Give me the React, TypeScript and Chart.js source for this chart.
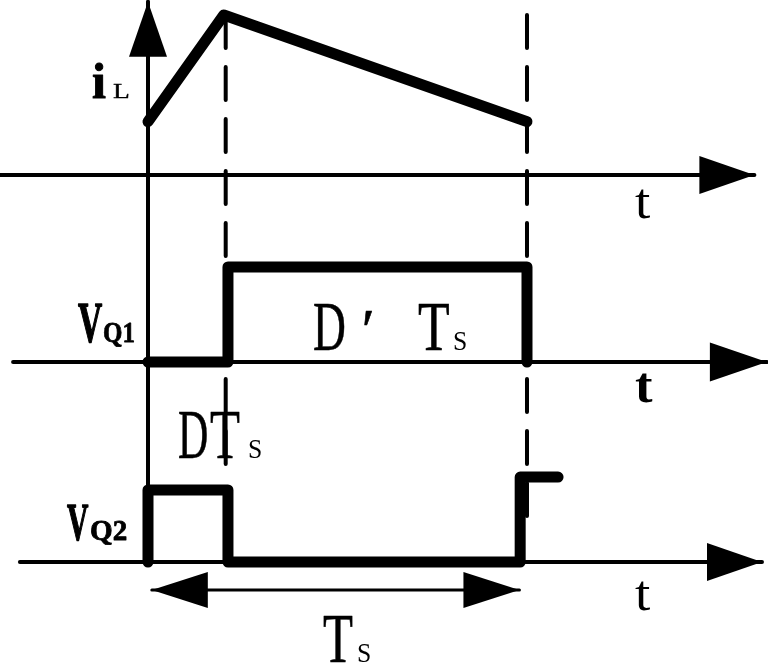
import React, { useEffect, useRef } from "react";
import { Chart, registerables } from "chart.js";

Chart.register(...registerables);

// ---- time axis in units of the switching period Ts ----
const D = 0.211; // duty ratio
const T_IL = [0, 0.2, 1.0];
const IL = [2, 6, 2];
const T_Q1 = [0, D, D, 1.0, 1.0];
const VQ1 = [0, 0, 1, 1, 0];
const T_Q2 = [0, 0, D, D, 0.982, 0.982, 1.082];
const VQ2 = [0, 1, 1, 0, 0, 1.18, 1.18];

// dashed period markers (time, top level, bottom level on iL scale)
const MARK_T = [0.205, 1.0];
const MARK_TOP = [6.0, 6.0];
const MARK_BOTTOM = [-11.06, -13.3];

// axes extents
const AXIS_IL_T = [-0.39, 1.6];
const AXIS_Q1_T = [-0.356, 1.633];
const AXIS_Q2_T = [-0.338, 1.62];
const VAXIS_IL = [-14.55, 6.5];
const PERIOD_T = [0.01, 0.98];
const PERIOD_LEVEL = -0.389;

// scale ranges (panel layout)
const X_RANGE = [-0.3905, 1.6359];
const IL_RANGE = [-18.3, 6.5625];
const Q1_RANGE = [-3.1684, 3.8105];
const Q2_RANGE = [-1.4028, 7.8056];

type Label = { text: string; t: number; v: number; axis: string; font: string; sx: number; stroke?: number };
const SERIF = "'Liberation Serif'";
const LABELS: Label[] = [
  { text: "i", t: -0.1478, v: 2.8875, axis: "yIL", font: `bold 50px ${SERIF}`, sx: 1, stroke: 1 },
  { text: "L", t: -0.0923, v: 2.8875, axis: "yIL", font: `22px ${SERIF}`, sx: 1.25, stroke: 0.4 },
  { text: "t", t: 1.285, v: -1.6125, axis: "yIL", font: `50px ${SERIF}`, sx: 1.1 },
  { text: "V", t: -0.1847, v: 0.2105, axis: "yQ1", font: `bold 56px ${SERIF}`, sx: 0.6, stroke: 1.5 },
  { text: "Q1", t: -0.1187, v: 0.2105, axis: "yQ1", font: `bold 29px ${SERIF}`, sx: 0.86, stroke: 0.8 },
  { text: "D", t: 0.4354, v: 0.1263, axis: "yQ1", font: `70px ${SERIF}`, sx: 0.65, stroke: 0.6 },
  { text: "\u2032", t: 0.554, v: 0.1263, axis: "yQ1", font: `italic 60px ${SERIF}`, sx: 1, stroke: 0.6 },
  { text: "T", t: 0.7124, v: 0.1263, axis: "yQ1", font: `70px ${SERIF}`, sx: 0.74, stroke: 0.6 },
  { text: "S", t: 0.8047, v: 0.1263, axis: "yQ1", font: `27px ${SERIF}`, sx: 0.95 },
  { text: "t", t: 1.285, v: -0.421, axis: "yQ1", font: `bold 50px ${SERIF}`, sx: 1.05 },
  { text: "D", t: 0.0792, v: -1.0105, axis: "yQ1", font: `70px ${SERIF}`, sx: 0.6, stroke: 0.6 },
  { text: "T", t: 0.1636, v: -1.0105, axis: "yQ1", font: `70px ${SERIF}`, sx: 0.7, stroke: 0.6 },
  { text: "S", t: 0.2639, v: -1.0105, axis: "yQ1", font: `27px ${SERIF}`, sx: 0.95 },
  { text: "V", t: -0.2137, v: 0.3056, axis: "yQ2", font: `bold 53px ${SERIF}`, sx: 0.56, stroke: 1.5 },
  { text: "Q2", t: -0.153, v: 0.3056, axis: "yQ2", font: `bold 30px ${SERIF}`, sx: 0.97, stroke: 0.8 },
  { text: "t", t: 1.285, v: -0.667, axis: "yQ2", font: `50px ${SERIF}`, sx: 1.1 },
  { text: "T", t: 0.4617, v: -1.389, axis: "yQ2", font: `70px ${SERIF}`, sx: 0.7, stroke: 0.6 },
  { text: "S", t: 0.5515, v: -1.389, axis: "yQ2", font: `27px ${SERIF}`, sx: 0.95 },
];

const pts = (ts: number[], vs: number[]) => ts.map((t, i) => ({ x: t, y: vs[i] }));

function drawHead(ctx: CanvasRenderingContext2D, tip: any, from: any, len: number, hw: number) {
  const dx = tip.x - from.x;
  const dy = tip.y - from.y;
  const d = Math.hypot(dx, dy) || 1;
  const ux = dx / d, uy = dy / d;
  const bx = tip.x - ux * len, by = tip.y - uy * len;
  ctx.beginPath();
  ctx.moveTo(tip.x, tip.y);
  ctx.lineTo(bx - uy * hw, by + ux * hw);
  ctx.lineTo(bx + uy * hw, by - ux * hw);
  ctx.closePath();
  ctx.fill();
}

const diagramPlugin = {
  id: "diagram",
  afterDatasetsDraw(chart: any) {
    const ctx: CanvasRenderingContext2D = chart.ctx;
    ctx.save();
    ctx.fillStyle = "#000";
    ctx.strokeStyle = "#000";
    chart.data.datasets.forEach((ds: any, i: number) => {
      const els = chart.getDatasetMeta(i).data;
      if (!els || els.length < 2) return;
      const n = els.length;
      if (ds.arrowEnd) drawHead(ctx, els[n - 1], els[n - 2], ds.arrowLen, ds.arrowHW);
      if (ds.arrowStart) drawHead(ctx, els[0], els[1], ds.arrowLen, ds.arrowHW);
    });
    const xs = chart.scales.x;
    LABELS.forEach((l) => {
      const px = xs.getPixelForValue(l.t);
      const py = chart.scales[l.axis].getPixelForValue(l.v);
      ctx.save();
      ctx.font = l.font;
      ctx.textAlign = "left";
      ctx.textBaseline = "alphabetic";
      ctx.translate(px, py);
      ctx.scale(l.sx, 1);
      ctx.fillText(l.text, 0, 0);
      if (l.stroke) {
        ctx.lineWidth = l.stroke;
        ctx.lineJoin = "round";
        ctx.strokeText(l.text, 0, 0);
      }
      ctx.restore();
    });
    ctx.restore();
  },
};

export default function App() {
  const ref = useRef<HTMLCanvasElement | null>(null);
  useEffect(() => {
    if (!ref.current) return;
    const thick = {
      showLine: true,
      borderColor: "#000",
      borderWidth: 11,
      borderCapStyle: "round",
      borderJoinStyle: "round",
      pointRadius: 0,
      fill: false,
      tension: 0,
      order: 0,
    };
    const axis = {
      showLine: true,
      borderColor: "#000",
      backgroundColor: "#000",
      borderWidth: 4,
      borderCapStyle: "round",
      pointRadius: 0,
      fill: false,
      order: 2,
      arrowEnd: true,
      arrowLen: 55,
      arrowHW: 19,
    };
    const dashed = {
      showLine: true,
      borderColor: "#000",
      borderWidth: 4,
      borderDash: [33, 19],
      borderCapStyle: "round",
      pointRadius: 0,
      fill: false,
      order: 1,
    };
    const datasets: any[] = [
      { ...thick, label: "iL", data: pts(T_IL, IL), yAxisID: "yIL" },
      { ...thick, label: "VQ1", data: pts(T_Q1, VQ1), yAxisID: "yQ1" },
      { ...thick, label: "VQ2", data: pts(T_Q2, VQ2), yAxisID: "yQ2" },
      ...MARK_T.map((t, i) => ({
        ...dashed,
        label: "mark" + i,
        data: pts([t, t], [MARK_TOP[i], MARK_BOTTOM[i]]),
        yAxisID: "yIL",
      })),
      { ...axis, label: "axisIL", data: pts(AXIS_IL_T, [0, 0]), yAxisID: "yIL" },
      { ...axis, label: "axisQ1", data: pts(AXIS_Q1_T, [0, 0]), yAxisID: "yQ1", arrowLen: 57, arrowHW: 19.5 },
      { ...axis, label: "axisQ2", data: pts(AXIS_Q2_T, [0, 0]), yAxisID: "yQ2" },
      { ...axis, label: "vaxis", data: pts([0, 0], VAXIS_IL), yAxisID: "yIL", arrowLen: 55, arrowHW: 19 },
      {
        ...axis,
        label: "period",
        borderWidth: 3,
        data: pts(PERIOD_T, [PERIOD_LEVEL, PERIOD_LEVEL]),
        yAxisID: "yQ2",
        arrowStart: true,
        arrowLen: 56,
        arrowHW: 18,
      },
    ];
    const hidden = (r: number[]) => ({ type: "linear", min: r[0], max: r[1], display: false });
    const chart = new Chart(ref.current, {
      type: "scatter",
      data: { datasets },
      options: {
        responsive: false,
        maintainAspectRatio: false,
        animation: false,
        layout: { padding: 0 },
        plugins: { legend: { display: false }, tooltip: { enabled: false } },
        events: [],
        scales: {
          x: hidden(X_RANGE),
          yIL: { ...hidden(IL_RANGE), axis: "y" },
          yQ1: { ...hidden(Q1_RANGE), axis: "y" },
          yQ2: { ...hidden(Q2_RANGE), axis: "y" },
        },
      } as any,
      plugins: [diagramPlugin],
    } as any);
    return () => chart.destroy();
  }, []);
  return (
    <div style={{ position: "absolute", left: 0, top: 0, width: 768, height: 663, background: "#fff" }}>
      <canvas ref={ref} width={768} height={663} style={{ display: "block", width: 768, height: 663 }} />
    </div>
  );
}
